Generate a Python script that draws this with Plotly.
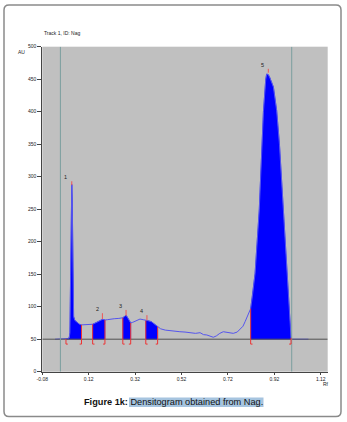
import numpy as np
import plotly.graph_objects as go

W, H = 347, 422

# ---- data ----
rf = [-0.025, 0.020, 0.030, 0.036, 0.039, 0.042, 0.045, 0.047, 0.049, 0.051, 0.053, 0.055,
      0.060, 0.070, 0.080, 0.089, 0.100, 0.117, 0.137, 0.150, 0.165, 0.179, 0.187, 0.190,
      0.200, 0.215, 0.230, 0.250, 0.267, 0.275, 0.281, 0.288, 0.295, 0.301, 0.310, 0.325,
      0.341, 0.355, 0.366, 0.375, 0.390, 0.400, 0.410, 0.417, 0.430, 0.450, 0.470, 0.490,
      0.513, 0.535, 0.557, 0.580, 0.600, 0.615, 0.629, 0.645, 0.657, 0.670, 0.685, 0.700,
      0.720, 0.743, 0.760, 0.772, 0.785, 0.794, 0.803, 0.809, 0.815, 0.818, 0.825, 0.834,
      0.837, 0.855, 0.868, 0.873, 0.883, 0.887, 0.894, 0.901, 0.916, 0.930, 0.942, 0.959,
      0.973, 0.976, 0.982, 0.988, 0.992, 0.995, 1.067]
au = [50, 50, 51, 52, 60, 150, 250, 288, 265, 180, 110, 85,
      79, 76, 73, 72, 72, 72, 73, 75, 78, 80.5, 80, 79.5,
      80, 81, 81.5, 82, 83, 85, 87, 83, 78, 75, 76, 79,
      81, 80, 78.5, 78.5, 77, 74, 71, 69, 66, 64, 63, 62,
      61.5, 61, 60, 59, 60, 57, 56.5, 54, 53, 55, 59, 61.5,
      60, 59, 61, 65, 70, 77, 84, 90, 96, 97, 115, 141,
      151, 249, 350, 400, 450, 458, 457, 452, 438, 402, 350, 249,
      151, 141, 115, 80, 52, 50, 50]

peak_labels = ["1", "2", "3", "4", "5"]
peak_start = [0.022, 0.137, 0.267, 0.366, 0.818]
peak_end = [0.089, 0.190, 0.301, 0.417, 0.992]
peak_apex = [0.047, 0.179, 0.281, 0.371, 0.894]
apex_tick_lo = [287, 81, 86, 79, 460]
apex_tick_hi = [293, 90, 95, 87, 466]
label_x = [0.022, 0.156, 0.255, 0.348, 0.868]
label_y = [300, 96.5, 101.5, 94, 472]

baseline = 50
front_rf = [-0.002, 0.995]
x_ticks = [-0.08, 0.12, 0.32, 0.52, 0.72, 0.92, 1.12]
y_ticks = [0, 50, 100, 150, 200, 250, 300, 350, 400, 450, 500]

rf_a = np.array(rf)
au_a = np.array(au)


def px(x):
    return x / W


def py(y):
    return 1 - y / H


fig = go.Figure()

# filled peaks
for s, e in zip(peak_start, peak_end):
    mask = (rf_a > s) & (rf_a < e)
    xs = [s] + list(rf_a[mask]) + [e]
    ys = [float(np.interp(s, rf_a, au_a))] + list(au_a[mask]) + [float(np.interp(e, rf_a, au_a))]
    xs = xs + [e, s, s]
    ys = ys + [baseline, baseline, ys[0]]
    fig.add_trace(go.Scatter(x=xs, y=ys, mode="lines", fill="toself", fillcolor="#0000ff",
                             line=dict(color="#0000ff", width=0.5), hoverinfo="skip",
                             showlegend=False))

# signal line
fig.add_trace(go.Scatter(x=rf, y=au, mode="lines", line=dict(color="#5555ee", width=1),
                         showlegend=False, hoverinfo="skip"))

shapes = []
# baseline
shapes.append(dict(type="line", xref="x", yref="y", x0=-0.08, x1=1.15, y0=baseline, y1=baseline,
                   line=dict(color="#505050", width=1)))
# front lines
for f in front_rf:
    shapes.append(dict(type="line", xref="x", yref="y", x0=f, x1=f, y0=0, y1=500,
                       line=dict(color="#7a9e9e", width=1)))
# peak boundaries (red brackets)
foot = 0.008
for s, e in zip(peak_start, peak_end):
    for xv, d in ((s, foot), (e, -foot)):
        top = float(np.interp(xv, rf_a, au_a))
        shapes.append(dict(type="line", xref="x", yref="y", x0=xv, x1=xv, y0=42.5, y1=top,
                           line=dict(color="#ee3333", width=1)))
        shapes.append(dict(type="line", xref="x", yref="y", x0=xv, x1=xv + d, y0=42.5, y1=42.5,
                           line=dict(color="#ee3333", width=1)))
# apex ticks
for a, lo, hi in zip(peak_apex, apex_tick_lo, apex_tick_hi):
    shapes.append(dict(type="line", xref="x", yref="y", x0=a, x1=a, y0=lo, y1=hi,
                       line=dict(color="#ee5555", width=1)))

# outer rounded frame
x0, x1, y0, y1 = px(4), px(341), py(416.5), py(5)
rx, ry = 5 / W, 5 / H
path = (f"M {x0+rx},{y0} L {x1-rx},{y0} Q {x1},{y0} {x1},{y0+ry} L {x1},{y1-ry} "
        f"Q {x1},{y1} {x1-rx},{y1} L {x0+rx},{y1} Q {x0},{y1} {x0},{y1-ry} L {x0},{y0+ry} "
        f"Q {x0},{y0} {x0+rx},{y0} Z")
shapes.append(dict(type="path", xref="paper", yref="paper", path=path,
                   line=dict(color="#8a8a8a", width=1.5)))
# caption highlight
shapes.append(dict(type="rect", xref="paper", yref="paper", x0=px(129), x1=px(263.5),
                   y0=py(407), y1=py(397.5), fillcolor="#a6c4df", line=dict(width=0),
                   layer="below"))

annotations = []
for lab, lx, ly in zip(peak_labels, label_x, label_y):
    annotations.append(dict(x=lx, y=ly, xref="x", yref="y", text=lab, showarrow=False,
                            font=dict(size=5.5, color="#222"), xanchor="center", yanchor="middle"))
annotations.append(dict(x=px(41.5), y=py(32.5), xref="paper", yref="paper", text="Track 1, ID: Nag",
                        showarrow=False, font=dict(size=5, color="#222"), xanchor="left",
                        yanchor="middle"))
annotations.append(dict(x=px(21), y=py(52), xref="paper", yref="paper", text="AU",
                        showarrow=False, font=dict(size=5, color="#222"), xanchor="center",
                        yanchor="middle"))
annotations.append(dict(x=px(325.5), y=py(383.5), xref="paper", yref="paper", text="Rf",
                        showarrow=False, font=dict(size=5, color="#222"), xanchor="center",
                        yanchor="middle"))
annotations.append(dict(x=px(81.5), y=py(402.3), xref="paper", yref="paper",
                        text="<b>Figure 1k:</b> Densitogram obtained from Nag.",
                        showarrow=False, font=dict(size=9.2, color="#111",
                                                    family="Liberation Sans, Arial"),
                        xanchor="left", yanchor="middle"))

fig.update_layout(
    width=W, height=H,
    margin=dict(l=0, r=0, t=0, b=0, pad=0),
    paper_bgcolor="white",
    plot_bgcolor="#c0c0c0",
    font=dict(family="Liberation Sans, Arial", color="#222"),
    shapes=shapes,
    annotations=annotations,
    xaxis=dict(domain=[px(42.3), px(327.7)], range=[-0.08, 1.15], tickvals=x_ticks,
               ticktext=[f"{v:.2f}" for v in x_ticks], ticks="outside", ticklen=2,
               tickcolor="#444", tickfont=dict(size=5, color="#222"), showgrid=False,
               zeroline=False, showline=True, linecolor="#444", linewidth=1, fixedrange=True,
               automargin=False),
    yaxis=dict(domain=[py(371.7), py(46.7)], range=[0, 500], tickvals=y_ticks,
               ticks="outside", ticklen=4, tickcolor="#444", tickfont=dict(size=5, color="#222"),
               showgrid=False, zeroline=False, showline=True, linecolor="#444", linewidth=1,
               fixedrange=True, automargin=False),
)

fig.write_html("out.html", config={"displayModeBar": False},
               post_script="document.body.style.margin='0';document.body.style.overflow='hidden';")
